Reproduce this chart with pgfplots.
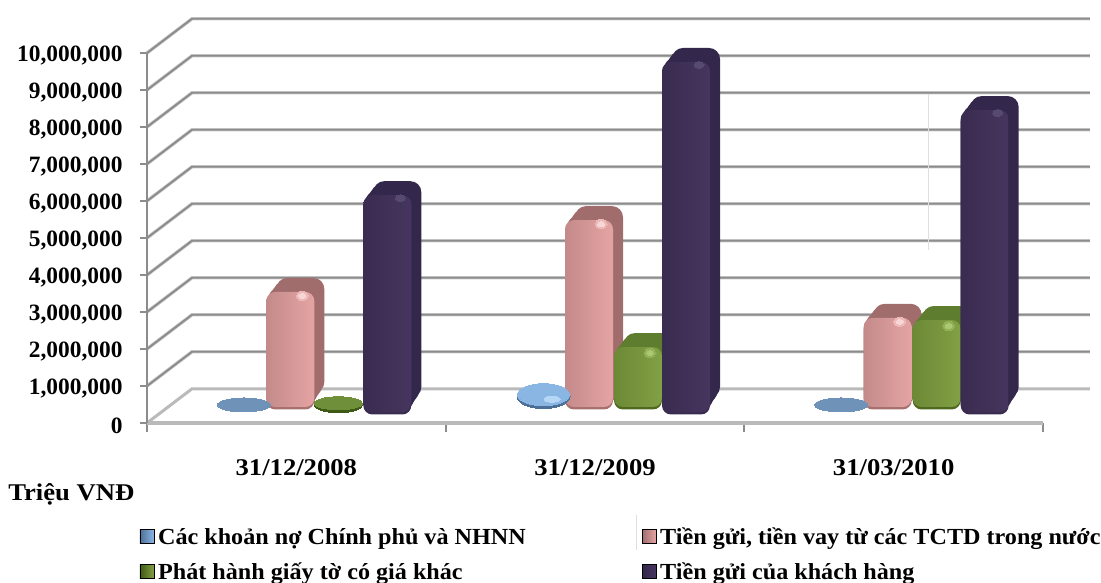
\documentclass[border=0pt]{standalone}
\usepackage{fontspec}
\setmainfont{Liberation Serif}
\newfontfamily\catfont[FakeStretch=1.11]{Liberation Serif}
\newfontfamily\legfont[FakeStretch=1.05]{Liberation Serif}
\usepackage{pgfplots}
\usepackage{pgfplotstable}
\pgfplotsset{compat=1.18}
\pgfplotstableread{
x v
0.5 20000
2.5 20000
}\tblueflat
\pgfplotstableread{
x v
1.5 400000
}\tbluelow
\pgfplotstableread{
x v
0.5 3110000
1.5 5050000
2.5 2410000
}\tpink
\pgfplotstableread{
x v
0.5 60000
}\tgreenflat
\pgfplotstableread{
x v
1.5 1620000
2.5 2350000
}\tgreen
\pgfplotstableread{
x v
0.5 5860000
1.5 9460000
2.5 8160000
}\tpurple
\definecolor{gridd}{HTML}{8C8C8C}
\definecolor{gridl}{HTML}{C9C9C9}
\definecolor{blflat}{HTML}{6F93B8}
\definecolor{bldark}{HTML}{4C6F97}
\definecolor{bllite}{HTML}{8AB6E4}
\definecolor{blhi}{HTML}{B5D6F5}
\definecolor{pkback}{HTML}{A06C6C}
\definecolor{pkedge}{HTML}{A87070}
\definecolor{pkl}{HTML}{C48A8A}
\definecolor{pkm}{HTML}{DD9A9A}
\definecolor{pkr}{HTML}{E5A4A4}
\definecolor{pkhi}{HTML}{F8D6D6}
\definecolor{grdark}{HTML}{3F5A14}
\definecolor{grflat}{HTML}{6F8F3A}
\definecolor{grback}{HTML}{5F7D2F}
\definecolor{gredge}{HTML}{4F6A1E}
\definecolor{grl}{HTML}{6C8936}
\definecolor{grm}{HTML}{7C9A40}
\definecolor{grr}{HTML}{82A044}
\definecolor{grhi}{HTML}{A9C973}
\definecolor{puback}{HTML}{33274C}
\definecolor{puedge}{HTML}{3A2C50}
\definecolor{pul}{HTML}{3A2B50}
\definecolor{pum}{HTML}{41315A}
\definecolor{pur}{HTML}{46365F}
\definecolor{puhi}{HTML}{574A70}
\newcommand{\backlayer}[6]{%
 % table, bar shift, x offset, y offset, colour, radius
 \addplot[ybar,forget plot,bar width=48pt,bar shift=#2pt,draw=none,fill=#5,rounded corners=#6pt,
   xshift=#3pt,yshift=#4pt] table[x=x,y=v] {#1};
}
\newcommand{\solidbar}[9]{%
 % table, shift, base yshift, back colour, edge colour, left, mid, right, domains
 \backlayer{#1}{#2}{10}{#3+14}{#4}{11}
 \backlayer{#1}{#2}{7.5}{#3+10.5}{#4}{10}
 \backlayer{#1}{#2}{5}{#3+7}{#4}{10}
 \backlayer{#1}{#2}{2.5}{#3+3.5}{#4}{9}
 \backlayer{#1}{#2}{0}{#3-2.5}{#5}{9}
 \pgfplotsinvokeforeach{#9}{%
  \addplot[ybar,forget plot,bar width=48pt,bar shift=#2pt,draw=none,left color=#6,middle color=#7,right color=#8,rounded corners=9pt,
   yshift=#3pt,restrict x to domain=##1.1:##1.9] table[x=x,y=v] {#1};
 }
}
\newcommand{\ovalm}[6]{%
 % table, xshift, yshift, x radius, y radius, colour
 \addplot[forget plot,only marks,mark=*,mark size=1pt,draw=none,
  mark options={draw=#6,fill=#6,line width=0pt,xscale=#4,yscale=#5},xshift=#2pt,yshift=#3pt] table[x=x,y=v] {#1};
}
\begin{document}
\begin{tikzpicture}
\begin{axis}[
  scale only axis,width=896pt,height=370pt,
  xmin=0,xmax=3,ymin=0,ymax=10000000,clip=false,
  axis x line=bottom,axis y line=left,
  axis line style={draw=none},
  xtick={0.5,1.5,2.5},
  xticklabels={31/12/2008,31/12/2009,31/03/2010},
  minor xtick={0,1,2,3},
  ytick={0,1000000,2000000,3000000,4000000,5000000,6000000,7000000,8000000,9000000,10000000},
  scaled y ticks=false,
  tick align=outside,
  major x tick style={draw=none},
  minor x tick style={draw=gridd,line width=2pt},
  minor tick length=9pt,
  major y tick style={draw=gridd,line width=2pt},
  major tick length=7pt,
  /pgf/number format/fixed,
  /pgf/number format/assume math mode=true,
  /pgf/number format/1000 sep={,},
  yticklabel style={font=\fontsize{23.4}{26}\selectfont\bfseries,xshift=-14pt,yshift=-2.5pt},
  xticklabel style={font=\catfont\fontsize{24}{26}\selectfont\bfseries,yshift=-26pt},
  legend columns=2,
  legend cell align=left,
  legend style={at={(axis cs:-0.035,-2.72e6)},anchor=north west,draw=none,fill=none,
    font=\legfont\fontsize{23}{26}\selectfont\bfseries,row sep=13pt,
    /tikz/every even column/.append style={column sep=114pt},
    /tikz/every odd column/.append style={column sep=2pt}},
  legend image code/.code={\path[#1] (0pt,-6.5pt) rectangle (14pt,7.5pt);},
]
% grid: back wall and left side wall
\addplot[forget plot,gridl,line width=3.4pt,unbounded coords=jump] coordinates {
 (0,1e6)(0.1507,1.925e6)(3.157,1.925e6)(nan,nan)
 (0,2e6)(0.1507,2.925e6)(3.157,2.925e6)(nan,nan)
 (0,3e6)(0.1507,3.925e6)(3.157,3.925e6)(nan,nan)
 (0,4e6)(0.1507,4.925e6)(3.157,4.925e6)(nan,nan)
 (0,5e6)(0.1507,5.925e6)(3.157,5.925e6)(nan,nan)
 (0,6e6)(0.1507,6.925e6)(3.157,6.925e6)(nan,nan)
 (0,7e6)(0.1507,7.925e6)(3.157,7.925e6)(nan,nan)
 (0,8e6)(0.1507,8.925e6)(3.157,8.925e6)(nan,nan)
 (0,9e6)(0.1507,9.925e6)(3.157,9.925e6)(nan,nan)
 (0,10e6)(0.1507,10.925e6)(3.157,10.925e6)};
\addplot[forget plot,gridd,line width=1.9pt,unbounded coords=jump] coordinates {
 (0,1e6)(0.1507,1.925e6)(3.157,1.925e6)(nan,nan)
 (0,2e6)(0.1507,2.925e6)(3.157,2.925e6)(nan,nan)
 (0,3e6)(0.1507,3.925e6)(3.157,3.925e6)(nan,nan)
 (0,4e6)(0.1507,4.925e6)(3.157,4.925e6)(nan,nan)
 (0,5e6)(0.1507,5.925e6)(3.157,5.925e6)(nan,nan)
 (0,6e6)(0.1507,6.925e6)(3.157,6.925e6)(nan,nan)
 (0,7e6)(0.1507,7.925e6)(3.157,7.925e6)(nan,nan)
 (0,8e6)(0.1507,8.925e6)(3.157,8.925e6)(nan,nan)
 (0,9e6)(0.1507,9.925e6)(3.157,9.925e6)(nan,nan)
 (0,10e6)(0.1507,10.925e6)(3.157,10.925e6)};
\addplot[forget plot,gridd!60!white,line width=3pt] coordinates {(0,0)(0.1507,0.925e6)(3.157,0.925e6)};
\addplot[forget plot,gridd!60!white,line width=3.2pt] coordinates {(0,0)(3,0)};
\addplot[forget plot,gridd,line width=2.5pt] coordinates {(0,0)(0,10e6)};
% faint scan artefacts
\addplot[forget plot,gray!25,line width=0.7pt] coordinates {(2.615,4.68e6)(2.615,8.9e6)};
\addplot[forget plot,gray!25,line width=0.7pt] coordinates {(1.64,-2.49e6)(1.64,-3.43e6)};
% blue
\ovalm{\tblueflat}{-52.5}{17.3}{26.5}{7}{blflat}
\ovalm{\tbluelow}{-51.5}{12}{26.5}{12.5}{bldark}
\ovalm{\tbluelow}{-51.5}{13.5}{26}{11}{bllite}
\ovalm{\tbluelow}{-43}{9}{8}{3}{blhi}
% pink
\solidbar{\tpink}{-6}{16}{pkback}{pkedge}{pkl}{pkm}{pkr}{0,1,2}
\ovalm{\tpink}{6}{12}{6}{4.5}{pkr!60!pkhi}
\ovalm{\tpink}{6}{12}{3.5}{2.5}{pkhi}
% green
\ovalm{\tgreenflat}{42}{16}{24}{8}{grdark}
\ovalm{\tgreenflat}{42}{17.5}{24}{6.5}{grflat}
\solidbar{\tgreen}{43}{16}{grback}{gredge}{grl}{grm}{grr}{1,2}
\ovalm{\tgreen}{55}{10}{6}{4.5}{grr!60!grhi}
\ovalm{\tgreen}{55}{10}{3.5}{2.5}{grhi}
% purple
\solidbar{\tpurple}{91}{11}{puback}{puedge}{pul}{pum}{pur}{0,1,2}
\ovalm{\tpurple}{104}{8}{5}{3.5}{puhi}
% legend
\addlegendimage{left color=bldark,right color=bllite}\addlegendentry{Các khoản nợ Chính phủ và NHNN}
\addlegendimage{left color=pkback,right color=pkr}\addlegendentry{Tiền gửi, tiền vay từ các TCTD trong nước}
\addlegendimage{left color=grdark,right color=grr}\addlegendentry{Phát hành giấy tờ có giá khác}
\addlegendimage{left color=puback,right color=pur}\addlegendentry{Tiền gửi của khách hàng}
\node[anchor=west,font=\catfont\fontsize{24}{26}\selectfont\bfseries,inner sep=0pt] at (axis cs:-0.465,-1.93e6) {Triệu VNĐ};
\end{axis}
\pgfresetboundingbox
\path[use as bounding box] (-147pt,-160pt) rectangle (954pt,423pt);
\end{tikzpicture}
\end{document}
